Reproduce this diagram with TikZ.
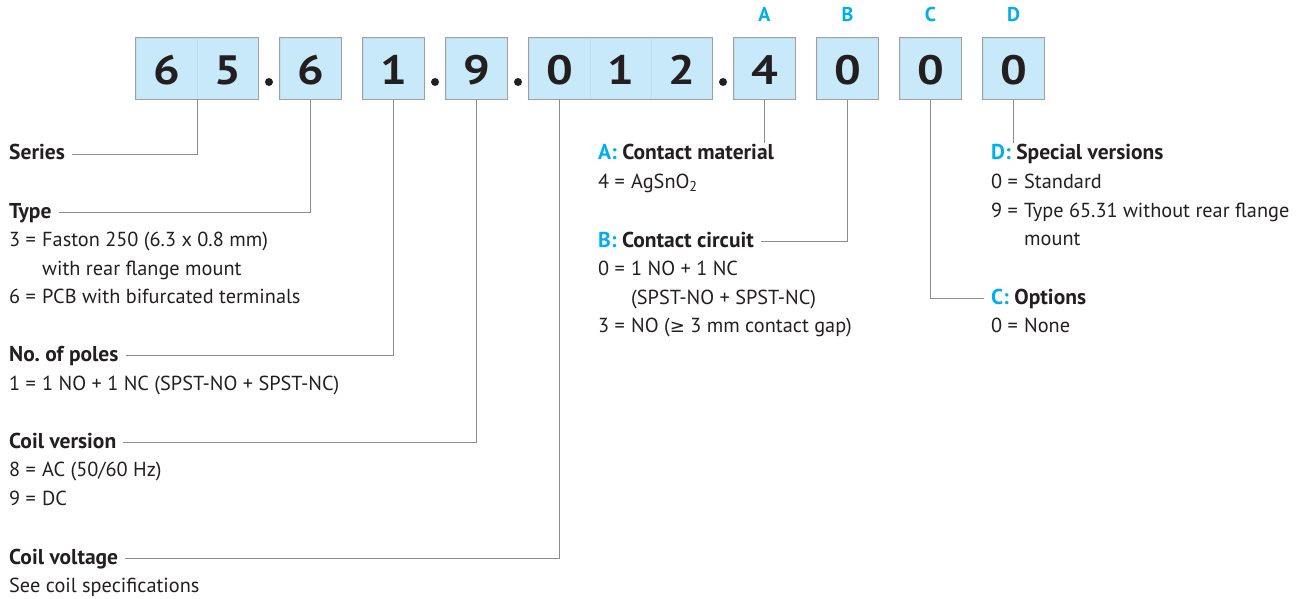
\documentclass[tikz,border=0pt]{standalone}
\usepackage{fontspec}
\setmainfont{PT Sans}
\newfontfamily\digitfont{PT Sans}[FakeStretch=1.15]
\newfontfamily\symfont{DejaVu Sans}
\usetikzlibrary{fit}
\definecolor{boxfill}{HTML}{C7E9F9}
\definecolor{boxline}{HTML}{A0A0A0}
\definecolor{divline}{HTML}{BBDFEF}
\definecolor{connc}{HTML}{8C8C8C}
\definecolor{ink}{HTML}{231F20}
\definecolor{cyanc}{HTML}{00AEEF}
\newcommand\eqpre[1]{\makebox[33pt][l]{#1}}
\frenchspacing
\begin{document}
\begin{tikzpicture}[x=1pt,y=-1pt,
  cell/.style={minimum width=61pt, minimum height=61pt, inner sep=0pt, fill=boxfill, draw=divline, line width=0.5pt},
  grp/.style={draw=boxline, line width=1.2pt, inner sep=0pt},
  digit/.style={font=\digitfont\fontsize{41}{41}\bfseries, text=ink, anchor=base, inner sep=0pt},
  letter/.style={font=\fontsize{20}{24}\bfseries, text=cyanc, anchor=base, inner sep=0pt},
  head/.style={font=\fontsize{21.5}{24}\bfseries, text=ink, anchor=base west, inner sep=0pt},
  body/.style={font=\fontsize{20.3}{24}\selectfont, text=ink, anchor=base west, inner sep=0pt},
  connline/.style={draw=connc, line width=0.9pt}]
\useasboundingbox (0,0) rectangle (1304,599);

% cells
\node[cell] (c1) at (166.5,68.5) {};
\node[cell] (c2) at (227.5,68.5) {};
\node[cell] (c3) at (310.5,68.5) {};
\node[cell] (c4) at (393.5,68.5) {};
\node[cell] (c5) at (476.5,68.5) {};
\node[cell] (c6) at (559.5,68.5) {};
\node[cell] (c7) at (620.5,68.5) {};
\node[cell] (c8) at (681.5,68.5) {};
\node[cell] (c9) at (764.5,68.5) {};
\node[cell] (c10) at (847.5,68.5) {};
\node[cell] (c11) at (930.5,68.5) {};
\node[cell] (c12) at (1013.5,68.5) {};

% group outlines
\node[grp, fit=(c1)(c2)] (g65) {};
\node[grp, fit=(c3)] (g6) {};
\node[grp, fit=(c4)] (g1) {};
\node[grp, fit=(c5)] (g9) {};
\node[grp, fit=(c6)(c7)(c8)] (g012) {};
\node[grp, fit=(c9)] (gA) {};
\node[grp, fit=(c10)] (gB) {};
\node[grp, fit=(c11)] (gC) {};
\node[grp, fit=(c12)] (gD) {};

% digits
\node[digit] (d1) at (166.5,85) {6};
\node[digit] (d2) at (227.5,85) {5};
\node[digit] (d3) at (310.5,85) {6};
\node[digit] (d4) at (393.5,85) {1};
\node[digit] (d5) at (476.5,85) {9};
\node[digit] (d6) at (559.5,85) {0};
\node[digit] (d7) at (620.5,85) {1};
\node[digit] (d8) at (681.5,85) {2};
\node[digit] (d9) at (764.5,85) {4};
\node[digit] (d10) at (847.5,85) {0};
\node[digit] (d11) at (930.5,85) {0};
\node[digit] (d12) at (1013.5,85) {0};

% dots
\fill[ink] (269,82) circle (4pt);
\fill[ink] (435,82) circle (4pt);
\fill[ink] (518,82) circle (4pt);
\fill[ink] (723,82) circle (4pt);

% letters
\node[letter] (lA) at (764.5,22) {A};
\node[letter] (lB) at (847.5,22) {B};
\node[letter] (lC) at (930.5,22) {C};
\node[letter] (lD) at (1013.5,22) {D};

% left column
\node[head] (hSeries) at (9,160) {Series};
\node[head] (hType) at (9,218) {Type};
\node[body] (t1) at (9,246.5) {\eqpre{3 =}Faston 250 (6.3 x 0.8 mm)};
\node[body] (t2) at (42,275) {with rear flange mount};
\node[body] (t3) at (9,303.5) {\eqpre{6 =}PCB with bifurcated terminals};
\node[head] (hPoles) at (9,361) {No. of poles};
\node[body] (p1) at (9,390) {\eqpre{1 =}1 NO + 1 NC (SPST-NO + SPST-NC)};
\node[head] (hCoil) at (9,448) {Coil version};
\node[body] (v1) at (9,476.5) {\eqpre{8 =}AC (50/60 Hz)};
\node[body] (v2) at (9,505) {\eqpre{9 =}DC};
\node[head] (hVolt) at (9,564) {Coil voltage};
\node[body] (s1) at (9,592) {See coil specifications};

% middle column
\node[head] (hA) at (598,160) {\textcolor{cyanc}{A:} Contact material};
\node[body] (a1) at (598,188.5) {\eqpre{4 =}AgSnO\textsubscript{2}};
\node[head] (hB) at (598,247) {\textcolor{cyanc}{B:} Contact circuit};
\node[body] (b1) at (598,275.5) {\eqpre{0 =}1 NO + 1 NC};
\node[body] (b2) at (631,304) {(SPST-NO + SPST-NC)};
\node[body] (b3) at (598,332.5) {\eqpre{3 =}NO ({\symfont\fontsize{18}{24}\selectfont ≥} 3 mm contact gap)};

% right column
\node[head] (hD) at (991,160) {\textcolor{cyanc}{D:} Special versions};
\node[body] (e1) at (991,188.5) {\eqpre{0 =}Standard};
\node[body] (e2) at (991,217) {\eqpre{9 =}Type 65.31 without rear flange};
\node[body] (e3) at (1024,245.5) {mount};
\node[head] (hC) at (991,304) {\textcolor{cyanc}{C:} Options};
\node[body] (o1) at (991,332.5) {\eqpre{0 =}None};

% end points for A and D
\coordinate (aend) at (764.5,143);
\coordinate (dend) at (1013.5,143);

% connectors
\draw[connline] (g65.south) |- ([xshift=7pt,yshift=6pt]hSeries.base east);
\draw[connline] (g6.south) |- ([xshift=7pt,yshift=6pt]hType.base east);
\draw[connline] (g1.south) |- ([xshift=7pt,yshift=6pt]hPoles.base east);
\draw[connline] (g9.south) |- ([xshift=7pt,yshift=6pt]hCoil.base east);
\draw[connline] (c6.south) |- ([xshift=7pt,yshift=6pt]hVolt.base east);
\draw[connline] (gA.south) -- (aend);
\draw[connline] (gB.south) |- ([xshift=7pt,yshift=6pt]hB.base east);
\draw[connline] (gC.south) |- ([xshift=-7pt,yshift=6pt]hC.base west);
\draw[connline] (gD.south) -- (dend);
\end{tikzpicture}
\end{document}
